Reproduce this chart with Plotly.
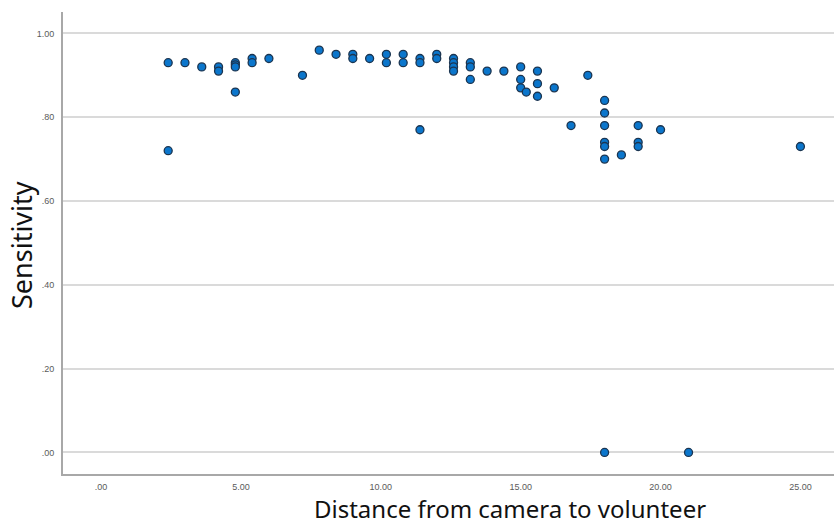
import plotly.graph_objects as go

distance = [2.4, 2.4, 3.0, 3.6, 4.2, 4.2, 4.8, 4.8, 4.8, 4.8,
            5.4, 5.4, 6.0, 7.2, 7.8, 8.4, 9.0, 9.0, 9.6, 10.2, 10.2,
            10.8, 10.8, 11.4, 11.4, 11.4, 12.0, 12.0,
            12.6, 12.6, 12.6, 12.6, 13.2, 13.2, 13.2, 13.8, 14.4,
            15.0, 15.0, 15.0, 15.2, 15.6, 15.6, 15.6, 16.2, 16.8, 17.4,
            18.0, 18.0, 18.0, 18.0, 18.0, 18.0, 18.0, 18.6,
            19.2, 19.2, 19.2, 20.0, 21.0, 25.0]
sensitivity = [0.93, 0.72, 0.93, 0.92, 0.92, 0.91, 0.93, 0.925, 0.92, 0.86,
               0.94, 0.93, 0.94, 0.90, 0.96, 0.95, 0.95, 0.94, 0.94, 0.95, 0.93,
               0.95, 0.93, 0.94, 0.93, 0.77, 0.95, 0.94,
               0.94, 0.93, 0.92, 0.91, 0.93, 0.92, 0.89, 0.91, 0.91,
               0.92, 0.89, 0.87, 0.86, 0.91, 0.88, 0.85, 0.87, 0.78, 0.90,
               0.84, 0.81, 0.78, 0.74, 0.73, 0.70, 0.00, 0.71,
               0.78, 0.74, 0.73, 0.77, 0.00, 0.73]

x_ticks = [0, 5, 10, 15, 20, 25]
x_labels = [".00", "5.00", "10.00", "15.00", "20.00", "25.00"]
y_ticks = [0, 0.2, 0.4, 0.6, 0.8, 1.0]
y_labels = [".00", ".20", ".40", ".60", ".80", "1.00"]

fig = go.Figure(go.Scatter(
    x=distance, y=sensitivity, mode="markers",
    marker=dict(size=8, color="#0b76cc", line=dict(color="#1c3550", width=1.3)),
))

tickfont = dict(family="Liberation Sans, Arial, sans-serif", size=9, color="#5a5a5a")
W, H = 836, 527
l, r, t, b = 63, 2, 12, 53
fig.update_layout(
    width=W, height=H,
    margin=dict(l=l, r=r, t=t, b=b),
    paper_bgcolor="white", plot_bgcolor="white",
    showlegend=False,
    xaxis=dict(range=[-1.36, 26.2], tickvals=x_ticks, ticktext=x_labels,
               showgrid=False, zeroline=False, showline=True,
               linecolor="#a8a8a8", linewidth=2, ticks="",
               ticklabelstandoff=3, tickfont=tickfont),
    yaxis=dict(range=[-0.0515, 1.051], tickvals=y_ticks, ticktext=y_labels,
               showgrid=True, gridcolor="#dadada", gridwidth=2, zeroline=False,
               showline=True, linecolor="#a8a8a8", linewidth=2, ticks="",
               ticklabelstandoff=5, tickfont=tickfont),
    annotations=[
        dict(text="Distance from camera to volunteer", x=510, y=527,
             showarrow=False, yanchor="bottom",
             font=dict(family="Noto Sans, Open Sans, sans-serif", size=24, color="#111")),
        dict(text="Sensitivity", x=22, y=245, textangle=-90, showarrow=False,
             yanchor="middle",
             font=dict(family="Noto Sans, Open Sans, sans-serif", size=27, color="#111")),
    ],
)

# convert pixel positions for annotations to paper coords
pw, ph = W - l - r, H - t - b
for ann in fig.layout.annotations:
    px, py = ann.x, ann.y
    ann.xref = "paper"
    ann.yref = "paper"
    ann.x = (px - l) / pw
    ann.y = (H - b - py) / ph
    ann.xanchor = "center"

fig.write_html("out.html")
